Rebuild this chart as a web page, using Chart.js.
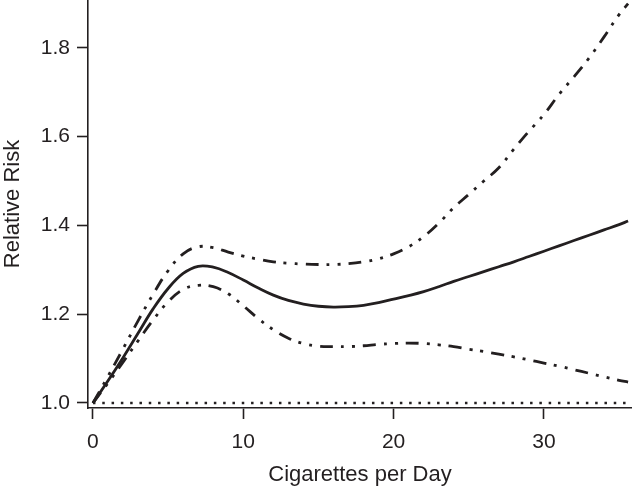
<!DOCTYPE html>
<html>
<head>
<meta charset="utf-8">
<script src="https://cdn.jsdelivr.net/npm/chart.js@4"></script>
<style>
  body { margin: 0; background: #fff; }
</style>
</head>
<body>
<canvas id="riskChart" width="632" height="488"></canvas>
<script>
// cigarettes per day (x) and the three fitted curves
const cigs = [0, 1, 2, 3, 4, 5, 6, 7, 8, 9, 10, 11, 12, 13, 14, 15, 16, 17, 18, 19, 20,
  21, 22, 23, 24, 25, 26, 27, 28, 29, 30, 31, 32, 33, 34, 35, 35.6];
const rrEstimate = [1.000, 1.050, 1.102, 1.157, 1.212, 1.258, 1.292, 1.308, 1.306, 1.294, 1.277,
  1.259, 1.243, 1.231, 1.223, 1.218, 1.216, 1.217, 1.220, 1.226, 1.234,
  1.242, 1.251, 1.262, 1.274, 1.285, 1.296, 1.307, 1.318, 1.330, 1.342,
  1.354, 1.366, 1.378, 1.390, 1.402, 1.410];
const rrUpper = [1.000, 1.060, 1.122, 1.185, 1.245, 1.298, 1.336, 1.352, 1.350, 1.340, 1.331,
  1.324, 1.318, 1.315, 1.313, 1.312, 1.312, 1.314, 1.318, 1.325, 1.336,
  1.352, 1.375, 1.405, 1.440, 1.470, 1.500, 1.530, 1.572, 1.612, 1.650,
  1.695, 1.735, 1.777, 1.825, 1.875, 1.900];
const rrLower = [1.000, 1.045, 1.092, 1.140, 1.187, 1.228, 1.256, 1.265, 1.262, 1.246, 1.219,
  1.190, 1.165, 1.146, 1.134, 1.128, 1.127, 1.127, 1.129, 1.132, 1.134,
  1.135, 1.134, 1.131, 1.127, 1.121, 1.116, 1.110, 1.104, 1.097, 1.090,
  1.083, 1.075, 1.067, 1.059, 1.051, 1.047];
const refLevel = 1.0;
const xTicks = [0, 10, 20, 30];
const yTicks = [1.0, 1.2, 1.4, 1.6, 1.8];

const ink = '#231f20';
const fontFamily = '"Liberation Sans", Arial, Helvetica, sans-serif';

function toPoints(ys) {
  return cigs.map((x, i) => ({ x: x, y: ys[i] }));
}

// keep the plot area flush with the canvas edges
function fixBox(scale, w, h) {
  if (w) scale.width = w;
  if (h) scale.height = h;
  scale.paddingTop = 0;
  scale.paddingBottom = 0;
  scale.paddingLeft = 0;
  scale.paddingRight = 0;
}

const dashDotDot = [13, 8, 3, 8, 3, 8];

new Chart(document.getElementById('riskChart'), {
  type: 'line',
  data: {
    datasets: [
      {
        label: 'Reference',
        data: [{ x: 0, y: refLevel }, { x: 36, y: refLevel }],
        borderColor: ink,
        borderWidth: 2.5,
        borderDash: [2.5, 6.8],
        pointRadius: 0,
        tension: 0
      },
      {
        label: 'Upper CI',
        data: toPoints(rrUpper),
        borderColor: ink,
        borderWidth: 2.8,
        borderDash: dashDotDot,
        pointRadius: 0,
        tension: 0.4
      },
      {
        label: 'Lower CI',
        data: toPoints(rrLower),
        borderColor: ink,
        borderWidth: 2.8,
        borderDash: dashDotDot,
        pointRadius: 0,
        tension: 0.4
      },
      {
        label: 'Relative Risk',
        data: toPoints(rrEstimate),
        borderColor: ink,
        borderWidth: 2.8,
        pointRadius: 0,
        tension: 0.4
      }
    ]
  },
  options: {
    responsive: false,
    animation: false,
    layout: { padding: 0 },
    plugins: {
      legend: { display: false },
      tooltip: { enabled: false }
    },
    scales: {
      x: {
        type: 'linear',
        min: -0.33,
        max: 35.86,
        afterFit: (scale) => fixBox(scale, 0, 80),
        afterBuildTicks: (scale) => { scale.ticks = xTicks.map(v => ({ value: v })); },
        border: { display: true, color: ink, width: 1.6 },
        grid: {
          drawOnChartArea: false,
          drawTicks: true,
          tickLength: 11,
          tickColor: ink,
          tickWidth: 1.6
        },
        ticks: {
          color: ink,
          padding: 11,
          maxRotation: 0,
          font: { family: fontFamily, size: 21 }
        },
        title: {
          display: true,
          text: 'Cigarettes per Day',
          color: ink,
          padding: 0,
          font: { family: fontFamily, size: 22 }
        }
      },
      y: {
        type: 'linear',
        min: 0.9887,
        max: 1.908,
        afterFit: (scale) => fixBox(scale, 88, 0),
        afterBuildTicks: (scale) => { scale.ticks = yTicks.map(v => ({ value: v })); },
        border: { display: true, color: ink, width: 1.6 },
        grid: {
          drawOnChartArea: false,
          drawTicks: true,
          tickLength: 11,
          tickColor: ink,
          tickWidth: 1.6
        },
        ticks: {
          color: ink,
          padding: 7,
          font: { family: fontFamily, size: 21 },
          callback: (v) => Number(v).toFixed(1)
        },
        title: {
          display: true,
          text: 'Relative Risk',
          color: ink,
          padding: 0,
          font: { family: fontFamily, size: 22 }
        }
      }
    }
  }
});
</script>
</body>
</html>
